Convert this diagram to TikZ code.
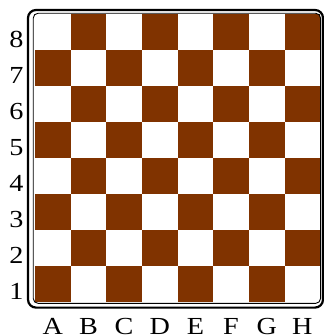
\documentclass[tikz,border=0pt]{standalone}
\usepackage{fontspec}
\setmainfont{Liberation Serif}
\definecolor{boardbrown}{HTML}{803300}
\begin{document}
\begin{tikzpicture}[x=1pt,y=-1pt,
  darksq/.style={fill=boardbrown},
  lbl/.style={font=\fontsize{24.5}{24.5}\selectfont, inner sep=0pt, anchor=base, xscale=1.15},
  outerframe/.style={draw=black, line width=2.2pt, rounded corners=8pt},
  innerframe/.style={draw=black, line width=0.9pt, rounded corners=5pt}]
\useasboundingbox (0,0) rectangle (324,335);
\fill[white] (0,0) rectangle (324,335);
% squares
\foreach \c in {1,...,8}{
  \foreach \r in {1,...,8}{
    \pgfmathtruncatemacro{\myparity}{mod(\c+\r,2)}
    \ifnum\myparity=0
      \fill[darksq] ({35+(\c-1)*35.65},{302-\r*36}) rectangle ({35+\c*35.65},{302-(\r-1)*36});
    \fi
  }
}
\draw[innerframe] (33.2,13.2) rectangle (320.6,303.4);
\draw[outerframe] (28,10) rectangle (323,307.6);
% rank labels
\foreach \r in {1,...,8}{
  \node[lbl] (rank\r) at (16.5,{302-(\r-1)*36-2.5}) {\r};
}
% file labels
\foreach \f [count=\c] in {A,B,C,D,E,F,G,H}{
  \node[lbl] (file\f) at ({35+(\c-0.5)*35.65},334) {\f};
}
\end{tikzpicture}
\end{document}
